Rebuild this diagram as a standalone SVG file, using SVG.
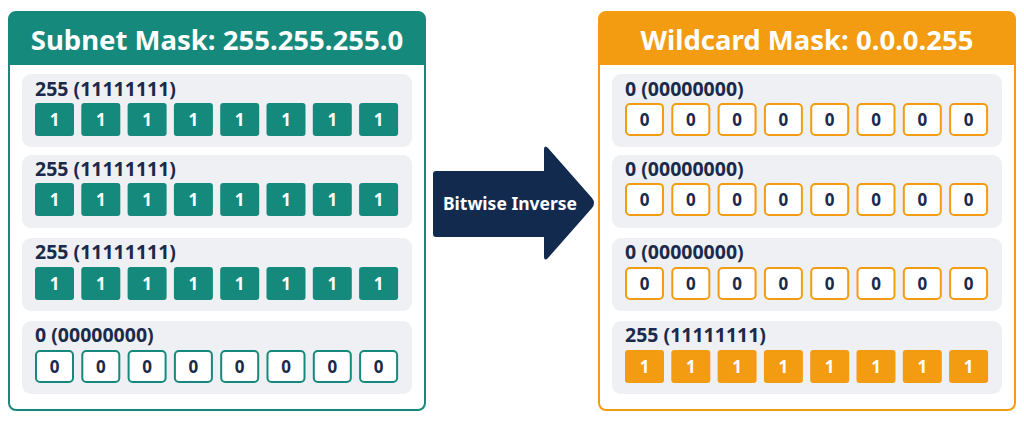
<svg xmlns="http://www.w3.org/2000/svg" width="1024" height="427" viewBox="0 0 1024 427">
<defs>
<style>
text{font-family:"Noto Sans","Open Sans",sans-serif;font-weight:bold}
.hd{fill:#fff;font-size:27.5px;text-anchor:middle}
.lb{fill:#1b2a4a;font-size:19.5px}
.row{fill:#eef0f3}
.b{font-size:17px;text-anchor:middle}
.tf{fill:#158a7c}
.of{fill:#f39c12}
.to{fill:#fff;stroke:#158a7c;stroke-width:2}
.oo{fill:#fff;stroke:#f39c12;stroke-width:2}
</style>
<g id="bitsL1"><rect class="tf" x="0" y="0" width="39" height="33" rx="3"/><text class="b" x="19.5" y="23" fill="#fff">1</text></g>
<g id="bitsL0"><rect class="to" x="1" y="1" width="37" height="31" rx="4"/><text class="b" x="19.5" y="23" fill="#1b2a4a">0</text></g>
<g id="bitsO1"><rect class="of" x="0" y="0" width="39" height="33" rx="3"/><text class="b" x="19.5" y="23" fill="#fff">1</text></g>
<g id="bitsO0"><rect class="oo" x="1" y="1" width="37" height="31" rx="4"/><text class="b" x="19.5" y="23" fill="#1b2a4a">0</text></g>
<g id="rowL1"><use href="#bitsL1" x="0"/><use href="#bitsL1" x="46.3"/><use href="#bitsL1" x="92.6"/><use href="#bitsL1" x="138.9"/><use href="#bitsL1" x="185.2"/><use href="#bitsL1" x="231.5"/><use href="#bitsL1" x="277.8"/><use href="#bitsL1" x="324.1"/></g>
<g id="rowL0"><use href="#bitsL0" x="0"/><use href="#bitsL0" x="46.3"/><use href="#bitsL0" x="92.6"/><use href="#bitsL0" x="138.9"/><use href="#bitsL0" x="185.2"/><use href="#bitsL0" x="231.5"/><use href="#bitsL0" x="277.8"/><use href="#bitsL0" x="324.1"/></g>
<g id="rowO1"><use href="#bitsO1" x="0"/><use href="#bitsO1" x="46.3"/><use href="#bitsO1" x="92.6"/><use href="#bitsO1" x="138.9"/><use href="#bitsO1" x="185.2"/><use href="#bitsO1" x="231.5"/><use href="#bitsO1" x="277.8"/><use href="#bitsO1" x="324.1"/></g>
<g id="rowO0"><use href="#bitsO0" x="0"/><use href="#bitsO0" x="46.3"/><use href="#bitsO0" x="92.6"/><use href="#bitsO0" x="138.9"/><use href="#bitsO0" x="185.2"/><use href="#bitsO0" x="231.5"/><use href="#bitsO0" x="277.8"/><use href="#bitsO0" x="324.1"/></g>
</defs>
<rect width="1024" height="427" fill="#fff"/>
<g id="subnet">
<rect x="9" y="12" width="416" height="398" rx="7" fill="#fff" stroke="#158a7c" stroke-width="2"/>
<path d="M9 19 a7 7 0 0 1 7 -7 h402 a7 7 0 0 1 7 7 v46 h-416z" fill="#158a7c"/>
<text class="hd" x="217" y="50">Subnet Mask: 255.255.255.0</text>
<rect class="row" x="22" y="74" width="390" height="73" rx="9"/><text class="lb" x="35" y="96">255 (11111111)</text><use href="#rowL1" x="35" y="103"/>
<rect class="row" x="22" y="155" width="390" height="73" rx="9"/><text class="lb" x="35" y="176">255 (11111111)</text><use href="#rowL1" x="35" y="183"/>
<rect class="row" x="22" y="238" width="390" height="73" rx="9"/><text class="lb" x="35" y="259">255 (11111111)</text><use href="#rowL1" x="35" y="267"/>
<rect class="row" x="22" y="321" width="390" height="73" rx="9"/><text class="lb" x="35" y="342">0 (00000000)</text><use href="#rowL0" x="35" y="350"/>
</g>
<g id="wildcard">
<rect x="599" y="12" width="416" height="398" rx="7" fill="#fff" stroke="#f39c12" stroke-width="2"/>
<path d="M599 19 a7 7 0 0 1 7 -7 h402 a7 7 0 0 1 7 7 v46 h-416z" fill="#f39c12"/>
<text class="hd" x="807" y="50">Wildcard Mask: 0.0.0.255</text>
<rect class="row" x="612" y="74" width="390" height="73" rx="9"/><text class="lb" x="625" y="96">0 (00000000)</text><use href="#rowO0" x="625" y="103"/>
<rect class="row" x="612" y="155" width="390" height="73" rx="9"/><text class="lb" x="625" y="176">0 (00000000)</text><use href="#rowO0" x="625" y="183"/>
<rect class="row" x="612" y="238" width="390" height="73" rx="9"/><text class="lb" x="625" y="259">0 (00000000)</text><use href="#rowO0" x="625" y="267"/>
<rect class="row" x="612" y="321" width="390" height="73" rx="9"/><text class="lb" x="625" y="342">255 (11111111)</text><use href="#rowO1" x="625" y="350"/>
</g>
<g id="connectors">
<g id="arrow">
<path d="M436 171 H544 V150 Q544 144 548 148 L592 198 Q596 203 592 208 L548 258 Q544 262 544 256 V237 H436 Q433 237 433 234 V174 Q433 171 436 171Z" fill="#122a4e"/>
<text x="510" y="210" fill="#fff" font-size="17.5" text-anchor="middle">Bitwise Inverse</text>
</g>
</g>
</svg>
